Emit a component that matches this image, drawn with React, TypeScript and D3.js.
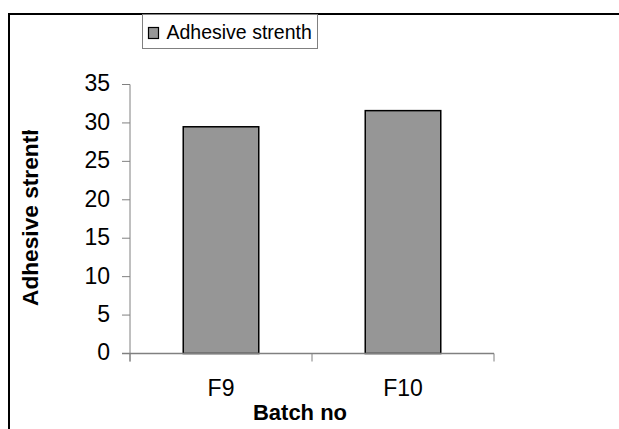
import React from "react";
import * as d3 from "d3";

const categories = ["F9", "F10"];
const values = [29.5, 31.6];
const yTicks = [0, 5, 10, 15, 20, 25, 30, 35];
const seriesName = "Adhesive strenth";
const xTitle = "Batch no";
const yTitle = "Adhesive strenth";

const W = 619;
const H = 429;
const plot = { left: 130, right: 494, top: 84.5, bottom: 353.5 };
const font = "'Liberation Sans', Arial, sans-serif";

export default function App() {
  const y = d3.scaleLinear().domain([0, 35]).range([plot.bottom, plot.top]);
  const x = d3
    .scaleBand<string>()
    .domain(categories)
    .range([plot.left, plot.right])
    .padding(0);
  const barW = x.bandwidth() * 0.415;
  const catEdges = [plot.left, ...categories.map((c) => (x(c) as number) + x.bandwidth())];

  return (
    <svg
      width={W}
      height={H}
      style={{ position: "absolute", left: 0, top: 0, background: "#fff" }}
    >
      <defs>
        {/* the rotated axis title runs out of room at the top and is cut off */}
        <clipPath id="ytitle-clip">
          <rect x={0} y={130} width={80} height={260} />
        </clipPath>
      </defs>
      {/* outer chart frame */}
      <rect x={9} y={14} width={W} height={H} fill="#fff" stroke="#000" strokeWidth={2} />

      {/* legend */}
      <rect x={142.5} y={14.5} width={175} height={34} fill="#fff" stroke="#808080" strokeWidth={1} />
      <rect x={148.5} y={27.5} width={10} height={11} fill="#969696" stroke="#000" strokeWidth={1.2} />
      <text x={166.5} y={38.5} fontFamily={font} fontSize={19.5} fill="#000">
        {seriesName}
      </text>

      {/* bars */}
      {categories.map((c, i) => {
        const cx = (x(c) as number) + x.bandwidth() / 2;
        return (
          <rect
            key={c}
            x={cx - barW / 2}
            y={y(values[i])}
            width={barW}
            height={y(0) - y(values[i])}
            fill="#969696"
            stroke="#000"
            strokeWidth={1.5}
          />
        );
      })}

      {/* y axis */}
      <line x1={plot.left} x2={plot.left} y1={plot.top} y2={plot.bottom + 8} stroke="#808080" strokeWidth={1} />
      {yTicks.map((t) => (
        <g key={t}>
          <line x1={plot.left - 8} x2={plot.left} y1={y(t)} y2={y(t)} stroke="#808080" strokeWidth={1} />
          <text
            x={plot.left - 20}
            y={y(t)}
            dy="0.3em"
            textAnchor="end"
            fontFamily={font}
            fontSize={23}
            fill="#000"
          >
            {t}
          </text>
        </g>
      ))}

      {/* x axis */}
      <line x1={plot.left - 8} x2={plot.right} y1={plot.bottom} y2={plot.bottom} stroke="#808080" strokeWidth={1.5} />
      {catEdges.map((e, i) => (
        <line key={i} x1={e} x2={e} y1={plot.bottom} y2={plot.bottom + 8} stroke="#808080" strokeWidth={1} />
      ))}
      {categories.map((c) => (
        <text
          key={c}
          x={(x(c) as number) + x.bandwidth() / 2}
          y={396}
          textAnchor="middle"
          fontFamily={font}
          fontSize={23}
          fill="#000"
        >
          {c}
        </text>
      ))}

      {/* axis titles */}
      <text
        x={300}
        y={420}
        textAnchor="middle"
        fontFamily={font}
        fontSize={22}
        fontWeight="bold"
        fill="#000"
      >
        {xTitle}
      </text>
      <g clipPath="url(#ytitle-clip)">
        <text
          transform="translate(38, 306) rotate(-90)"
          textAnchor="start"
          fontFamily={font}
          fontSize={22.7}
          fontWeight="bold"
          fill="#000"
        >
          {yTitle}
        </text>
      </g>
    </svg>
  );
}
